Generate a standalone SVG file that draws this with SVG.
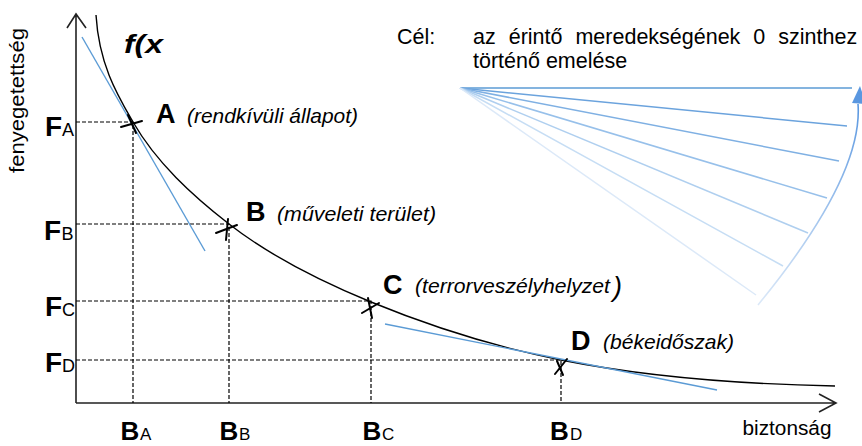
<svg xmlns="http://www.w3.org/2000/svg" width="862" height="446" viewBox="0 0 862 446">
<defs>
<style>
text{font-family:"Liberation Sans",Arial,sans-serif;fill:#000}
.big{font-weight:bold;font-size:27px}
.F{font-weight:bold;font-size:28px}
.FB{font-weight:bold;font-size:26px}
.sub{font-size:18px}
.subB{font-size:17px}
.it{font-style:italic;font-size:21px}
.txt{font-size:21.5px}
.dash{stroke:#000;stroke-width:1.2;stroke-dasharray:4 2;fill:none}
.axis{stroke:#222;stroke-width:1.6;fill:none}
.cross{stroke:#000;stroke-width:2;fill:none;stroke-linecap:round}
.tan{stroke:#5B9BD5;stroke-width:1.4;fill:none}
.fan{stroke-width:1.5;fill:none}
</style>
<linearGradient id="arcg" x1="0" y1="1" x2="0" y2="0">
<stop offset="0" stop-color="#DCE9F8"/>
<stop offset="1" stop-color="#5A97E0"/>
</linearGradient>
</defs>
<rect width="862" height="446" fill="#fff"/>

<g id="axes">
<path class="axis" d="M76,403 V14 M67,28 L76,14 L86,28"/>
<path class="axis" d="M76,403 H836 M819,394 L836,403 L819,412"/>
<text transform="translate(24,173) rotate(-90)" font-size="20.5" textLength="145" lengthAdjust="spacingAndGlyphs">fenyegetettség</text>
<text x="742.5" y="435" font-size="20.5" textLength="89" lengthAdjust="spacingAndGlyphs">biztonság</text>
<text x="124" y="53" font-weight="bold" font-style="italic" font-size="25" textLength="39" lengthAdjust="spacingAndGlyphs">f(x</text>
</g>

<g id="connectors">
<path class="dash" d="M76,122 H133 V403 M76,224 H229 V403 M76,301 H371 V403 M76,360 H561 V403"/>
<path id="curve" fill="none" stroke="#000" stroke-width="1.4" d="M96,15 C99,65 118,96 133,122 C156.3,162.5 192.2,195.3 229,224 C271.6,257.2 321.1,281.5 371,302 C432.2,327.1 496.1,347.1 561,360 C651.1,377.9 743.2,384.2 835,386"/>
<line class="tan" x1="82" y1="37" x2="205" y2="251"/>
<line class="tan" x1="385" y1="324" x2="717" y2="390"/>
</g>

<g id="pointA">
<path class="cross" d="M121,127 L142,121 M128,115 L136,133"/>
<text class="big" x="156" y="123">A</text>
<text class="it" x="187" y="123" textLength="171" lengthAdjust="spacingAndGlyphs">(rendkívüli állapot)</text>
</g>
<g id="pointB">
<path class="cross" d="M216,233 L237,225 M228,219 L226,240"/>
<text class="big" x="246" y="221">B</text>
<text class="it" x="277" y="221" textLength="159" lengthAdjust="spacingAndGlyphs">(műveleti terület)</text>
</g>
<g id="pointC">
<path class="cross" d="M362,313 L379,303 M368,298 L372,318"/>
<text class="big" x="383" y="294">C</text>
<text class="it" x="415" y="293" textLength="195" lengthAdjust="spacingAndGlyphs">(terrorveszélyhelyzet</text>
<text x="613" y="296" font-style="italic" font-size="27">)</text>
</g>
<g id="pointD">
<path class="cross" d="M555,374 L567,359 M557,361 L563,375"/>
<text class="big" x="571" y="350">D</text>
<text class="it" x="603" y="349" textLength="131" lengthAdjust="spacingAndGlyphs">(békeidőszak)</text>
</g>

<g id="labelsF">
<text class="F" x="45" y="136">F</text><text class="sub" x="62" y="136">A</text>
<text class="F" x="44" y="240">F</text><text class="sub" x="61.5" y="240">B</text>
<text class="F" x="45" y="316">F</text><text class="sub" x="62" y="316">C</text>
<text class="F" x="45" y="372">F</text><text class="sub" x="62" y="372">D</text>
</g>
<g id="labelsB">
<text class="FB" x="120.5" y="440">B</text><text class="subB" x="140" y="440">A</text>
<text class="FB" x="219.5" y="440">B</text><text class="subB" x="239" y="440">B</text>
<text class="FB" x="362.5" y="440">B</text><text class="subB" x="382" y="440">C</text>
<text class="FB" x="550" y="440">B</text><text class="subB" x="570" y="440">D</text>
</g>

<g id="goal">
<text class="txt" x="397" y="44">Cél:</text>
<text class="txt" x="473" y="44" word-spacing="7">az érintő meredekségének 0 szinthez</text>
<text class="txt" x="473" y="68">történő emelése</text>
</g>

<g id="fan">
<line class="fan" x1="460" y1="88" x2="852" y2="88" stroke="#5B9BD5"/>
<line class="fan" x1="460" y1="88" x2="847" y2="126" stroke="#6BA3DD"/>
<line class="fan" x1="460" y1="88" x2="839" y2="161" stroke="#7FB0E3"/>
<line class="fan" x1="460" y1="88" x2="827" y2="198" stroke="#97C0EA"/>
<line class="fan" x1="460" y1="88" x2="808" y2="233" stroke="#AFCFEF"/>
<line class="fan" x1="460" y1="88" x2="783" y2="266" stroke="#C6DDF4"/>
<line class="fan" x1="460" y1="88" x2="756" y2="295" stroke="#DCE9F8"/>
<path d="M758,305 Q863.5,176 858,104" fill="none" stroke="url(#arcg)" stroke-width="1.6"/>
<path d="M852,103 L860,86 L866,104 Z" fill="#5A97E0"/>
</g>
</svg>
